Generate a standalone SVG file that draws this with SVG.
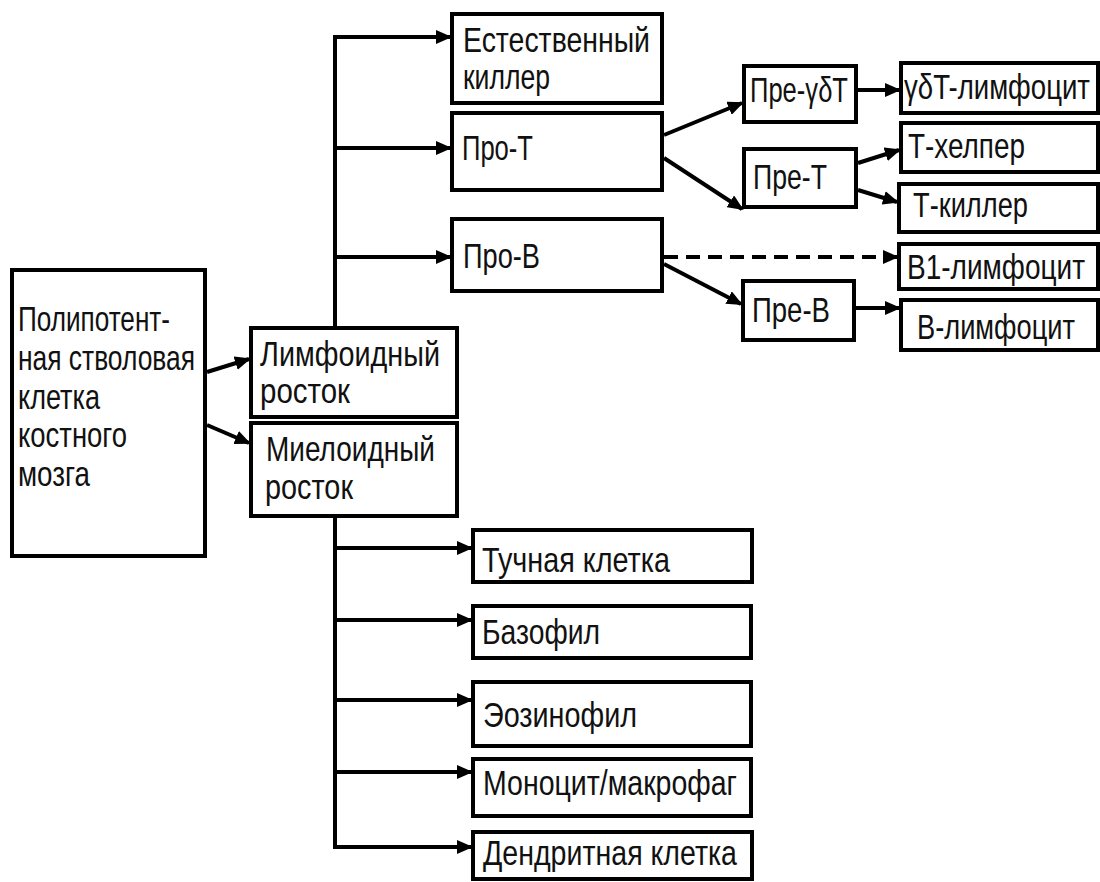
<svg xmlns="http://www.w3.org/2000/svg" width="1100" height="882" viewBox="0 0 1100 882">
<style>
.box{fill:#fff;stroke:#000;stroke-width:4}
.t{font-family:"Liberation Sans",Arial,sans-serif;font-size:35px;fill:#111}
.ln{stroke:#000;stroke-width:4;fill:none}
.dl{stroke:#000;stroke-width:4;fill:none;stroke-dasharray:14 8}
</style>
<defs>
<marker id="ah" markerUnits="userSpaceOnUse" markerWidth="16" markerHeight="14" refX="14" refY="7" orient="auto">
<path d="M0,0 L16,7 L0,14 Z" fill="#000"/>
</marker>
</defs>
<rect width="1100" height="882" fill="#fff"/>
<g id="connectors">
<path class="ln" d="M335,36 V328"/>
<path class="ln" d="M333,37 H450" marker-end="url(#ah)"/>
<path class="ln" d="M335,148 H450" marker-end="url(#ah)"/>
<path class="ln" d="M335,257 H450" marker-end="url(#ah)"/>
<path class="ln" d="M207,372 L249,359" marker-end="url(#ah)"/>
<path class="ln" d="M207,425 L249,443" marker-end="url(#ah)"/>
<path class="ln" d="M664,135 L742,103" marker-end="url(#ah)"/>
<path class="ln" d="M664,158 L742,209" marker-end="url(#ah)"/>
<path class="ln" d="M858,90 H899" marker-end="url(#ah)"/>
<path class="ln" d="M858,163 L899,150" marker-end="url(#ah)"/>
<path class="ln" d="M858,190 L897,202" marker-end="url(#ah)"/>
<path class="dl" d="M664,257 H897" marker-end="url(#ah)"/>
<path class="ln" d="M664,264 L741,304" marker-end="url(#ah)"/>
<path class="ln" d="M856,308 H899" marker-end="url(#ah)"/>
<path class="ln" d="M335,516 V849"/>
<path class="ln" d="M335,548 H471" marker-end="url(#ah)"/>
<path class="ln" d="M335,620 H471" marker-end="url(#ah)"/>
<path class="ln" d="M335,700 H471" marker-end="url(#ah)"/>
<path class="ln" d="M335,772 H471" marker-end="url(#ah)"/>
<path class="ln" d="M333,847 H471" marker-end="url(#ah)"/>
</g>
<g id="stem"><rect class="box" x="12" y="270" width="193" height="286"/>
<text class="t" x="18" y="331" textLength="152" lengthAdjust="spacingAndGlyphs">Полипотент-</text>
<text class="t" x="18" y="370" textLength="177" lengthAdjust="spacingAndGlyphs">ная стволовая</text>
<text class="t" x="18" y="409" textLength="82" lengthAdjust="spacingAndGlyphs">клетка</text>
<text class="t" x="18" y="447" textLength="109" lengthAdjust="spacingAndGlyphs">костного</text>
<text class="t" x="18" y="486" textLength="72" lengthAdjust="spacingAndGlyphs">мозга</text></g>
<g id="lymphoid"><rect class="box" x="251" y="328" width="206" height="89"/>
<text class="t" x="260" y="366" textLength="180" lengthAdjust="spacingAndGlyphs">Лимфоидный</text>
<text class="t" x="260" y="403" textLength="90" lengthAdjust="spacingAndGlyphs">росток</text></g>
<g id="myeloid"><rect class="box" x="251" y="423" width="206" height="93"/>
<text class="t" x="266" y="461" textLength="169" lengthAdjust="spacingAndGlyphs">Миелоидный</text>
<text class="t" x="265" y="499" textLength="88" lengthAdjust="spacingAndGlyphs">росток</text></g>
<g id="nk"><rect class="box" x="452" y="14" width="210" height="89"/>
<text class="t" x="463" y="52" textLength="187" lengthAdjust="spacingAndGlyphs">Естественный</text>
<text class="t" x="463" y="89" textLength="87" lengthAdjust="spacingAndGlyphs">киллер</text></g>
<g id="pro-t"><rect class="box" x="452" y="113" width="210" height="77"/>
<text class="t" x="462" y="160" textLength="71" lengthAdjust="spacingAndGlyphs">Про-Т</text></g>
<g id="pro-b"><rect class="box" x="452" y="219" width="210" height="72"/>
<text class="t" x="463" y="268" textLength="77" lengthAdjust="spacingAndGlyphs">Про-В</text></g>
<g id="pre-gdt"><rect class="box" x="744" y="66" width="112" height="56"/>
<text class="t" x="750" y="102" textLength="98" lengthAdjust="spacingAndGlyphs">Пре-γδT</text></g>
<g id="gdt"><rect class="box" x="901" y="63" width="197" height="50"/>
<text class="t" transform="scale(0.8,1)" x="1130" y="99" textLength="232.5" lengthAdjust="spacingAndGlyphs">γδT-лимфоцит</text></g>
<g id="pre-t"><rect class="box" x="744" y="149" width="112" height="58"/>
<text class="t" x="753" y="189" textLength="74" lengthAdjust="spacingAndGlyphs">Пре-Т</text></g>
<g id="t-helper"><rect class="box" x="901" y="123" width="197" height="49"/>
<text class="t" x="908" y="158" textLength="117" lengthAdjust="spacingAndGlyphs">Т-хелпер</text></g>
<g id="t-killer"><rect class="box" x="899" y="184" width="199" height="48"/>
<text class="t" x="913" y="217" textLength="115" lengthAdjust="spacingAndGlyphs">Т-киллер</text></g>
<g id="b1"><rect class="box" x="899" y="244" width="199" height="45"/>
<text class="t" transform="scale(0.8,1)" x="1133.75" y="279" textLength="222.5" lengthAdjust="spacingAndGlyphs">В1-лимфоцит</text></g>
<g id="pre-b"><rect class="box" x="743" y="281" width="111" height="59"/>
<text class="t" x="752" y="322" textLength="78" lengthAdjust="spacingAndGlyphs">Пре-В</text></g>
<g id="b"><rect class="box" x="901" y="300" width="197" height="50"/>
<text class="t" transform="scale(0.8,1)" x="1146.25" y="339" textLength="197.5" lengthAdjust="spacingAndGlyphs">В-лимфоцит</text></g>
<g id="mast"><rect class="box" x="473" y="530" width="279" height="52"/>
<text class="t" x="482" y="572" textLength="188" lengthAdjust="spacingAndGlyphs">Тучная клетка</text></g>
<g id="baso"><rect class="box" x="473" y="606" width="278" height="52"/>
<text class="t" x="482" y="644" textLength="118" lengthAdjust="spacingAndGlyphs">Базофил</text></g>
<g id="eos"><rect class="box" x="473" y="682" width="278" height="64"/>
<text class="t" x="483" y="727" textLength="154" lengthAdjust="spacingAndGlyphs">Эозинофил</text></g>
<g id="mono"><rect class="box" x="473" y="759" width="278" height="57"/>
<text class="t" x="483" y="795" textLength="254" lengthAdjust="spacingAndGlyphs">Моноцит/макрофаг</text></g>
<g id="dendr"><rect class="box" x="473" y="832" width="279" height="47"/>
<text class="t" x="483" y="865" textLength="254" lengthAdjust="spacingAndGlyphs">Дендритная клетка</text></g>
</svg>
